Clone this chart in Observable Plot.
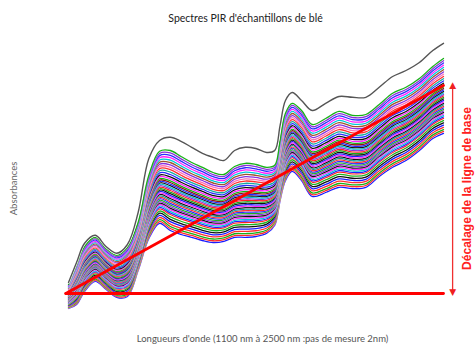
<!DOCTYPE html>
<html>
<head>
<meta charset="utf-8">
<script src="https://cdn.jsdelivr.net/npm/d3@7"></script>
<script src="https://cdn.jsdelivr.net/npm/@observablehq/plot@0.6"></script>
<style>
  html, body { margin: 0; padding: 0; background: #fff; }
  #chart { width: 475px; height: 351px; }
</style>
</head>
<body>
<div id="chart"></div>
<script>
// Wavelength grid (nm)
const wavelengths = [1100,1130,1160,1200,1240,1280,1320,1360,1400,1440,1480,1520,1560,1600,1640,1680,1720,1760,1800,1840,1870,1890,1910,1935,1970,2010,2060,2110,2160,2210,2260,2310,2360,2410,2460,2500];

// Highest (grey) spectrum
const greySpectrum = [0.22,0.27,0.318,0.338,0.31,0.293,0.315,0.395,0.53,0.575,0.583,0.573,0.558,0.543,0.533,0.525,0.55,0.558,0.555,0.545,0.55,0.613,0.675,0.695,0.675,0.65,0.668,0.685,0.683,0.683,0.708,0.735,0.75,0.77,0.80,0.818];
// Upper envelope of the main bundle
const upperSpectrum = [0.215,0.263,0.31,0.333,0.305,0.288,0.308,0.37,0.488,0.548,0.55,0.535,0.52,0.508,0.495,0.49,0.51,0.518,0.515,0.508,0.513,0.575,0.643,0.668,0.65,0.615,0.63,0.648,0.638,0.64,0.665,0.693,0.708,0.73,0.76,0.78];
// Lower envelope of the bundle
const lowerSpectrum = [0.155,0.165,0.198,0.223,0.203,0.183,0.185,0.25,0.33,0.368,0.35,0.34,0.333,0.325,0.32,0.323,0.333,0.333,0.335,0.343,0.363,0.425,0.475,0.498,0.475,0.435,0.445,0.458,0.455,0.458,0.485,0.508,0.525,0.55,0.58,0.593];

// Position of each sample inside the bundle (0 = lowest, 1 = highest) and its colour
const samplePosition = [0.00,0.025,0.05,0.08,0.11,0.14,0.17,0.20,0.22,0.24,0.26,0.28,0.30,0.32,0.34,0.36,0.38,0.40,0.42,0.44,0.46,0.48,0.50,0.52,0.54,0.56,0.58,0.60,0.62,0.645,0.67,0.70,0.73,0.76,0.79,0.82,0.85,0.88,0.91,0.94,0.97,1.00];
const sampleColor = ["#1a1aff","#ff2a2a","#18b018","#ff3030","#1a1aff","#111111","#20b020","#ff2020","#2020ff","#00c8d8","#ff20ff","#111111","#8a30d8","#20b020","#2a2aff","#ff2a2a","#109a9a","#111111","#ff20ff","#1a1aff","#111111","#18a818","#ff2020","#8a30d8","#00c0d0","#111111","#2020ff","#8b1010","#18b018","#ff20ff","#111111","#2a2aff","#18a8a0","#ff3030","#ff70b8","#8a30e0","#a0522d","#00c8d8","#ff20ff","#2a2aff","#8a30d8","#18b018"];

// Red annotation lines (absorbance values)
const baseLevel = 0.1925;
const driftEnd = 0.7125;
const redLineStart = 1090;
const arrowWavelength = 2534;
const arrowTop = 0.7125;
const arrowBottom = 0.195;

const titleText = "Spectres PIR d'échantillons de blé";
const xLabelText = "Longueurs d'onde (1100 nm à 2500 nm :pas de mesure 2nm)";
const yLabelText = "Absorbances";
const shiftText = "Décalage de la ligne de base";

// Build tables
const greyTable = wavelengths.map((wl, i) => ({wl, a: greySpectrum[i]}));
const sampleTables = samplePosition.map((p, k) =>
  wavelengths.map((wl, i) => ({wl, a: lowerSpectrum[i] + p * (upperSpectrum[i] - lowerSpectrum[i]), k}))
);
const baselineTable = [{wl: redLineStart, a: baseLevel}, {wl: 2500, a: baseLevel}];
const driftTable = [{wl: redLineStart, a: baseLevel}, {wl: 2500, a: driftEnd}];
const arrowShaft = [{wl: arrowWavelength, a1: arrowBottom, a2: arrowTop}];
const arrowHeads = [{wl: arrowWavelength, a: arrowTop, g: "▲"}, {wl: arrowWavelength, a: arrowBottom, g: "▼"}];

const lineMarks = [];
sampleTables.forEach((t, k) => {
  lineMarks.push(Plot.line(t, {x: "wl", y: "a", stroke: "white", strokeWidth: 2, strokeOpacity: 0.45, curve: "catmull-rom"}));
  lineMarks.push(Plot.line(t, {x: "wl", y: "a", stroke: sampleColor[k], strokeWidth: 1.3, curve: "catmull-rom"}));
});

const chart = Plot.plot({
  width: 475,
  height: 351,
  marginLeft: 68,
  marginRight: 32,
  marginTop: 30,
  marginBottom: 41,
  x: {domain: [1100, 2500], axis: null},
  y: {domain: [0.15, 0.85], axis: null},
  marks: [
    ...lineMarks,
    Plot.line(greyTable, {x: "wl", y: "a", stroke: "white", strokeWidth: 2.6, curve: "catmull-rom"}),
    Plot.line(greyTable, {x: "wl", y: "a", stroke: "#555", strokeWidth: 1.4, curve: "catmull-rom"}),
    Plot.line(baselineTable, {x: "wl", y: "a", stroke: "#ff0000", strokeWidth: 2.8}),
    Plot.line(driftTable, {x: "wl", y: "a", stroke: "#ff0000", strokeWidth: 2.8}),
    Plot.ruleX(arrowShaft, {x: "wl", y1: "a1", y2: "a2", stroke: "#f03030", strokeWidth: 1.3}),
    Plot.text(arrowHeads, {x: "wl", y: "a", text: "g", fill: "#f02020", fontSize: 9, fontFamily: "DejaVu Sans"}),
    Plot.text([titleText], {frameAnchor: "top", textAnchor: "middle", dx: -10.5, dy: -16, fontSize: 10.5, fontFamily: "Lato", fill: "#222"}),
    Plot.text([xLabelText], {frameAnchor: "bottom", textAnchor: "middle", dx: 6.5, dy: 31, fontSize: 9.5, fontFamily: "Lato", fill: "#555"}),
    Plot.text([yLabelText], {frameAnchor: "left", textAnchor: "middle", dx: -55, dy: 18, rotate: -90, fontSize: 9.5, fontFamily: "Lato", fill: "#666"}),
    Plot.text([shiftText], {frameAnchor: "right", textAnchor: "middle", dx: 24, dy: 18, rotate: -90, fontSize: 12, fontWeight: "bold", fontFamily: "Liberation Sans", fill: "#ff2020"})
  ]
});
document.getElementById("chart").appendChild(chart);
</script>
</body>
</html>
